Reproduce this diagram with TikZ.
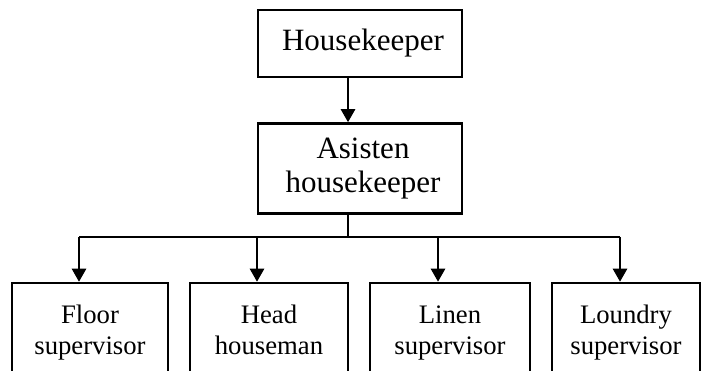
\documentclass[tikz,border=0pt]{standalone}
\usepackage{fontspec}
\setmainfont{Liberation Serif}
\usetikzlibrary{arrows.meta}
\newcommand{\twolines}[2]{#1\strut\\#2\strut}
\begin{document}
\begin{tikzpicture}[x=1pt,y=-1pt,
  box/.style={draw,line width=2.5pt,inner sep=0pt,align=center},
  topbox/.style={box,font=\fontsize{31}{34}\selectfont},
  lowbox/.style={box,font=\fontsize{26.7}{31}\selectfont,minimum height=100pt},
  line/.style={line width=2.5pt},
  arr/.style={line,-{Triangle[width=14pt,length=13pt]}}]
\useasboundingbox (0,0) rectangle (704,371);
\clip (0,0) rectangle (704,371);
% management boxes
\node[topbox,minimum width=204pt,minimum height=67pt] (hk) at (360,43.5) {\hspace{6pt}Housekeeper};
\node[topbox,minimum width=204pt,minimum height=90pt] (ah) at (360,168.5) {\hspace{6pt}Asisten\\\hspace{6pt}housekeeper};
% supervisor boxes (bottom edge runs below the page)
\node[lowbox,minimum width=156pt] (b1) at (90,333) {\twolines{Floor}{supervisor}};
\node[lowbox,minimum width=158pt] (b2) at (269,333) {\twolines{Head}{houseman}};
\node[lowbox,minimum width=160pt] (b3) at (450,333) {\twolines{Linen}{supervisor}};
\node[lowbox,minimum width=148pt] (b4) at (626,333) {\twolines{Loundry}{supervisor}};
% connectors
\coordinate (bus) at (348,237);
\draw[arr] ([xshift=-12pt]hk.south) -- ([xshift=-12pt]ah.north);
\draw[line] ([xshift=-12pt]ah.south) -- ([xshift=-12pt]ah.south |- bus);
\draw[line] ([xshift=-11pt]b1.north |- bus) -- ([xshift=-6pt]b4.north |- bus);
\draw[arr] ([xshift=-11pt]b1.north |- bus) -- ([xshift=-11pt]b1.north);
\draw[arr] ([xshift=-12pt]b2.north |- bus) -- ([xshift=-12pt]b2.north);
\draw[arr] ([xshift=-12pt]b3.north |- bus) -- ([xshift=-12pt]b3.north);
\draw[arr] ([xshift=-6pt]b4.north |- bus) -- ([xshift=-6pt]b4.north);
\end{tikzpicture}
\end{document}
